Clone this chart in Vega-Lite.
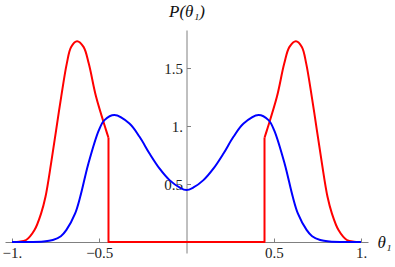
{
  "$schema": "https://vega.github.io/schema/vega-lite/v6.json",
  "width": 363,
  "height": 223,
  "autosize": {"type": "none"},
  "padding": {"left": 5, "top": 30, "right": 27, "bottom": 14},
  "background": "white",
  "config": {
    "view": {"stroke": null},
    "axis": {
      "grid": false,
      "labelFont": "Liberation Serif",
      "titleFont": "Liberation Serif",
      "labelFontSize": 15,
      "labelColor": "#222222",
      "titleColor": "#111111",
      "titleFontSize": 17,
      "titleFontWeight": "normal",
      "titleFontStyle": "italic",
      "domainColor": "#808080",
      "tickColor": "#808080",
      "labelOverlap": false,
      "labelFlush": false,
      "labelBound": false
    }
  },
  "data": {
    "values": [
      {"s": "red", "g": "redL", "o": 1, "x": -1.0, "y": 0},
      {"s": "red", "g": "redL", "o": 2, "x": -0.96, "y": 0.002},
      {"s": "red", "g": "redL", "o": 3, "x": -0.919, "y": 0.017},
      {"s": "red", "g": "redL", "o": 4, "x": -0.871, "y": 0.103},
      {"s": "red", "g": "redL", "o": 5, "x": -0.833, "y": 0.247},
      {"s": "red", "g": "redL", "o": 6, "x": -0.808, "y": 0.39},
      {"s": "red", "g": "redL", "o": 7, "x": -0.776, "y": 0.678},
      {"s": "red", "g": "redL", "o": 8, "x": -0.747, "y": 0.966},
      {"s": "red", "g": "redL", "o": 9, "x": -0.718, "y": 1.253},
      {"s": "red", "g": "redL", "o": 10, "x": -0.686, "y": 1.54},
      {"s": "red", "g": "redL", "o": 11, "x": -0.661, "y": 1.684},
      {"s": "red", "g": "redL", "o": 12, "x": -0.627, "y": 1.733},
      {"s": "red", "g": "redL", "o": 13, "x": -0.59, "y": 1.684},
      {"s": "red", "g": "redL", "o": 14, "x": -0.56, "y": 1.54},
      {"s": "red", "g": "redL", "o": 15, "x": -0.518, "y": 1.253},
      {"s": "red", "g": "redL", "o": 16, "x": -0.461, "y": 0.966},
      {"s": "red", "g": "redL", "o": 17, "x": -0.447, "y": 0.9},
      {"s": "red", "g": "redM", "o": 1, "x": -0.447, "y": 0.9},
      {"s": "red", "g": "redM", "o": 2, "x": -0.447, "y": 0},
      {"s": "red", "g": "redM", "o": 3, "x": 0.447, "y": 0},
      {"s": "red", "g": "redM", "o": 4, "x": 0.447, "y": 0.9},
      {"s": "red", "g": "redR", "o": 1, "x": 0.447, "y": 0.9},
      {"s": "red", "g": "redR", "o": 2, "x": 0.461, "y": 0.966},
      {"s": "red", "g": "redR", "o": 3, "x": 0.518, "y": 1.253},
      {"s": "red", "g": "redR", "o": 4, "x": 0.56, "y": 1.54},
      {"s": "red", "g": "redR", "o": 5, "x": 0.59, "y": 1.684},
      {"s": "red", "g": "redR", "o": 6, "x": 0.627, "y": 1.733},
      {"s": "red", "g": "redR", "o": 7, "x": 0.661, "y": 1.684},
      {"s": "red", "g": "redR", "o": 8, "x": 0.686, "y": 1.54},
      {"s": "red", "g": "redR", "o": 9, "x": 0.718, "y": 1.253},
      {"s": "red", "g": "redR", "o": 10, "x": 0.747, "y": 0.966},
      {"s": "red", "g": "redR", "o": 11, "x": 0.776, "y": 0.678},
      {"s": "red", "g": "redR", "o": 12, "x": 0.808, "y": 0.39},
      {"s": "red", "g": "redR", "o": 13, "x": 0.833, "y": 0.247},
      {"s": "red", "g": "redR", "o": 14, "x": 0.871, "y": 0.103},
      {"s": "red", "g": "redR", "o": 15, "x": 0.919, "y": 0.017},
      {"s": "red", "g": "redR", "o": 16, "x": 0.96, "y": 0.002},
      {"s": "red", "g": "redR", "o": 17, "x": 1.0, "y": 0},
      {"s": "blue", "g": "blue", "o": 1, "x": -1.0, "y": 0},
      {"s": "blue", "g": "blue", "o": 2, "x": -0.9, "y": 0.0005},
      {"s": "blue", "g": "blue", "o": 3, "x": -0.82, "y": 0.004},
      {"s": "blue", "g": "blue", "o": 4, "x": -0.766, "y": 0.017},
      {"s": "blue", "g": "blue", "o": 5, "x": -0.72, "y": 0.05},
      {"s": "blue", "g": "blue", "o": 6, "x": -0.688, "y": 0.105},
      {"s": "blue", "g": "blue", "o": 7, "x": -0.638, "y": 0.247},
      {"s": "blue", "g": "blue", "o": 8, "x": -0.609, "y": 0.39},
      {"s": "blue", "g": "blue", "o": 9, "x": -0.562, "y": 0.678},
      {"s": "blue", "g": "blue", "o": 10, "x": -0.502, "y": 0.966},
      {"s": "blue", "g": "blue", "o": 11, "x": -0.47, "y": 1.052},
      {"s": "blue", "g": "blue", "o": 12, "x": -0.413, "y": 1.097},
      {"s": "blue", "g": "blue", "o": 13, "x": -0.327, "y": 1.023},
      {"s": "blue", "g": "blue", "o": 14, "x": -0.269, "y": 0.908},
      {"s": "blue", "g": "blue", "o": 15, "x": -0.212, "y": 0.764},
      {"s": "blue", "g": "blue", "o": 16, "x": -0.155, "y": 0.635},
      {"s": "blue", "g": "blue", "o": 17, "x": -0.097, "y": 0.534},
      {"s": "blue", "g": "blue", "o": 18, "x": -0.04, "y": 0.471},
      {"s": "blue", "g": "blue", "o": 19, "x": 0, "y": 0.448},
      {"s": "blue", "g": "blue", "o": 20, "x": 0.04, "y": 0.471},
      {"s": "blue", "g": "blue", "o": 21, "x": 0.097, "y": 0.534},
      {"s": "blue", "g": "blue", "o": 22, "x": 0.155, "y": 0.635},
      {"s": "blue", "g": "blue", "o": 23, "x": 0.212, "y": 0.764},
      {"s": "blue", "g": "blue", "o": 24, "x": 0.269, "y": 0.908},
      {"s": "blue", "g": "blue", "o": 25, "x": 0.327, "y": 1.023},
      {"s": "blue", "g": "blue", "o": 26, "x": 0.413, "y": 1.097},
      {"s": "blue", "g": "blue", "o": 27, "x": 0.47, "y": 1.052},
      {"s": "blue", "g": "blue", "o": 28, "x": 0.502, "y": 0.966},
      {"s": "blue", "g": "blue", "o": 29, "x": 0.562, "y": 0.678},
      {"s": "blue", "g": "blue", "o": 30, "x": 0.609, "y": 0.39},
      {"s": "blue", "g": "blue", "o": 31, "x": 0.638, "y": 0.247},
      {"s": "blue", "g": "blue", "o": 32, "x": 0.688, "y": 0.105},
      {"s": "blue", "g": "blue", "o": 33, "x": 0.72, "y": 0.05},
      {"s": "blue", "g": "blue", "o": 34, "x": 0.766, "y": 0.017},
      {"s": "blue", "g": "blue", "o": 35, "x": 0.82, "y": 0.004},
      {"s": "blue", "g": "blue", "o": 36, "x": 0.9, "y": 0.0005},
      {"s": "blue", "g": "blue", "o": 37, "x": 1.0, "y": 0}
    ]
  },
  "encoding": {
    "x": {
      "field": "x",
      "type": "quantitative",
      "scale": {"domain": [-1.04, 1.04], "nice": false, "zero": false},
      "axis": {
        "orient": "bottom",
        "offset": -11,
        "values": [-1, -0.5, 0.5, 1],
        "labelExpr": "datum.value == -1 ? '−1.' : datum.value == 1 ? '1.' : datum.value < 0 ? '−0.5' : '0.5'",
        "tickSize": -4,
        "labelPadding": 7,
        "title": "θ₁",
        "titleX": 372,
        "titleY": 0,
        "titleAlign": "left",
        "titleBaseline": "middle",
        "titleAngle": 0
      }
    },
    "y": {
      "field": "y",
      "type": "quantitative",
      "scale": {"domain": [-0.095, 1.83], "nice": false, "zero": false},
      "axis": {
        "orient": "left",
        "offset": -181.5,
        "values": [0.5, 1, 1.5],
        "labelExpr": "datum.value == 1 ? '1.' : format(datum.value, '.1f')",
        "tickSize": -4,
        "labelPadding": 8,
        "title": "P(θ₁)",
        "titleX": 0,
        "titleY": -14,
        "titleAlign": "center",
        "titleBaseline": "alphabetic",
        "titleAngle": 0
      }
    },
    "color": {
      "field": "s",
      "type": "nominal",
      "scale": {"domain": ["red", "blue"], "range": ["#ff0000", "#0000ff"]},
      "legend": null
    }
  },
  "layer": [
    {
      "transform": [{"filter": "datum.g == 'redL' || datum.g == 'redR'"}],
      "mark": {"type": "line", "interpolate": "catmull-rom", "strokeWidth": 2, "strokeJoin": "round"},
      "encoding": {"detail": {"field": "g"}, "order": {"field": "o"}}
    },
    {
      "transform": [{"filter": "datum.g == 'redM'"}],
      "mark": {"type": "line", "interpolate": "linear", "strokeWidth": 2, "strokeJoin": "round"},
      "encoding": {"order": {"field": "o"}}
    },
    {
      "transform": [{"filter": "datum.g == 'blue'"}],
      "mark": {"type": "line", "interpolate": "catmull-rom", "strokeWidth": 2, "strokeJoin": "round"},
      "encoding": {"order": {"field": "o"}}
    }
  ]
}
